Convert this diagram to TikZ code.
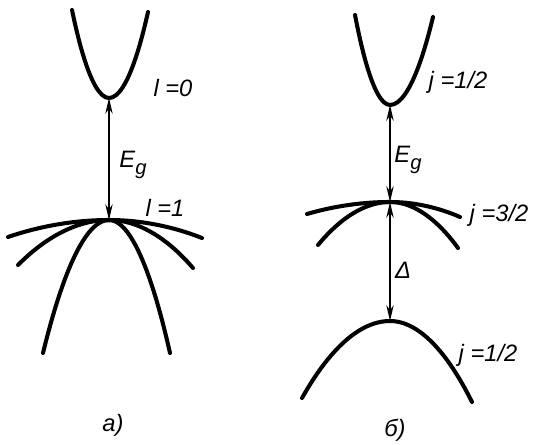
\documentclass[tikz,border=0pt]{standalone}
\usepackage{fontspec}
\setmainfont{Liberation Sans}
\usetikzlibrary{arrows.meta}

\begin{document}
\begin{tikzpicture}[x=0.02cm, y=-0.02cm,
    band/.style={line width=2.3pt, line cap=round},
    gap/.style={{Stealth[length=9pt,width=4.2pt]}-{Stealth[length=9pt,width=4.2pt]}, line width=0.9pt},
    lbl/.style={font=\fontsize{13.5}{15}\selectfont\itshape, inner sep=1pt}]
  \useasboundingbox (0,0) rectangle (533,445);

  % a) band edges
  \coordinate (cbA) at (109,98);
  \coordinate (vbA) at (109,220);
  \draw[band] (72,10) parabola bend (cbA) (148,12);
  \draw[band] (8,237) parabola bend (vbA) (202,238);
  \draw[band] (18,265) parabola bend (vbA) (193,268);
  \draw[band] (43,353) parabola bend (vbA) (170,353);
  \draw[gap] (cbA) -- (vbA);
  \node[lbl] (l0) at (173,88) {l =0};
  \node[lbl] (egA) at (133,165) {E\raisebox{-0.5ex}{\fontsize{11.5}{13}\selectfont g}};
  \node[lbl] (l1) at (165,208) {l =1};
  \node[lbl] (capA) at (113,425) {а)};

  % b) band edges with spin-orbit split
  \coordinate (cbB) at (390,105);
  \coordinate (vbB) at (390,202);
  \coordinate (soB) at (390,321);
  \draw[band] (355,15) parabola bend (cbB) (433,17);
  \draw[band] (307,214) parabola bend (vbB) (460,217);
  \draw[band] (318,245) parabola bend (vbB) (458,248);
  \draw[band] (302,398) parabola bend (soB) (472,402);
  \draw[gap] (cbB) -- (vbB);
  \draw[gap] (vbB) -- (soB);
  \node[lbl] (j1) at (458,82) {j =1/2};
  \node[lbl] (egB) at (408,160) {E\raisebox{-0.5ex}{\fontsize{11.5}{13}\selectfont g}};
  \node[lbl] (j3) at (499,215) {j =3/2};
  \node[lbl] (dl) at (403,270) {Δ};
  \node[lbl] (j2) at (488,355) {j =1/2};
  \node[lbl] (capB) at (395,430) {б)};
\end{tikzpicture}
\end{document}
